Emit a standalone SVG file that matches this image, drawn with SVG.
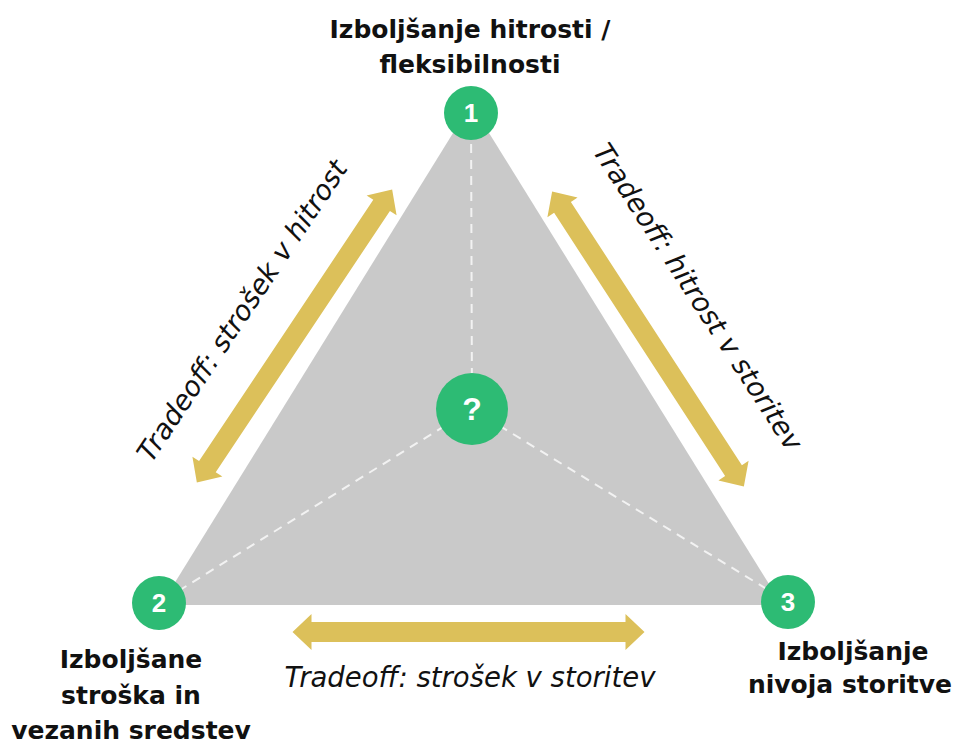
<svg xmlns="http://www.w3.org/2000/svg" width="959" height="744" viewBox="0 0 959 744">
<style>
.lbl{font-family:"DejaVu Sans",Verdana,sans-serif;font-weight:bold;font-size:25px;fill:#111;text-anchor:middle}
.trd{font-family:"DejaVu Sans",Verdana,sans-serif;font-style:italic;font-size:27.5px;fill:#111;text-anchor:middle}
.num{font-family:"Liberation Sans",Arial,sans-serif;font-weight:bold;font-size:26px;fill:#fff;text-anchor:middle}
.dash{stroke:#f2f2f2;stroke-width:2;stroke-dasharray:9 7;fill:none}
.arr{fill:#DCC05A}
.dot{fill:#2DBB74}
</style>
<defs>
<polygon id="dbl" points="-176,0 -157,-18 -157,-10 157,-10 157,-18 176,0 157,18 157,10 -157,10 -157,18"/>
</defs>
<rect width="959" height="744" fill="#fff"/>
<g id="triangle">
<polygon points="471,104 161,605 782,605" fill="#C9C9C9"/>
</g>
<g id="connectors">
<line class="dash" x1="471" y1="112" x2="472" y2="409"/>
<line class="dash" x1="472" y1="409" x2="159" y2="603"/>
<line class="dash" x1="472" y1="409" x2="788" y2="602"/>
<use href="#dbl" class="arr" transform="translate(468.5,632)"/>
<use href="#dbl" class="arr" transform="translate(294.5,336) rotate(-56.3)"/>
<use href="#dbl" class="arr" transform="translate(648,339) rotate(57)"/>
</g>
<g id="node1">
<circle class="dot" cx="471" cy="113" r="27"/>
<text class="num" x="471" y="122">1</text>
<text class="lbl" x="470" y="38">Izboljšanje hitrosti /</text>
<text class="lbl" x="470" y="73">fleksibilnosti</text>
</g>
<g id="node2">
<circle class="dot" cx="159" cy="603" r="27"/>
<text class="num" x="159" y="612">2</text>
<text class="lbl" x="131" y="668">Izboljšane</text>
<text class="lbl" x="131" y="704">stroška in</text>
<text class="lbl" x="131" y="739">vezanih sredstev</text>
</g>
<g id="node3">
<circle class="dot" cx="788" cy="602" r="27"/>
<text class="num" x="788" y="611">3</text>
<text class="lbl" x="853" y="660">Izboljšanje</text>
<text class="lbl" x="850" y="693">nivoja storitve</text>
</g>
<g id="center">
<circle class="dot" cx="472" cy="409" r="36"/>
<text class="num" x="472" y="420" style="font-size:32px">?</text>
</g>
<g id="labels">
<text class="trd" x="470" y="687">Tradeoff: strošek v storitev</text>
<text class="trd" transform="translate(250,316) rotate(-56.3)">Tradeoff: strošek v hitrost</text>
<text class="trd" transform="translate(690,302) rotate(57)">Tradeoff: hitrost v storitev</text>
</g>
</svg>
